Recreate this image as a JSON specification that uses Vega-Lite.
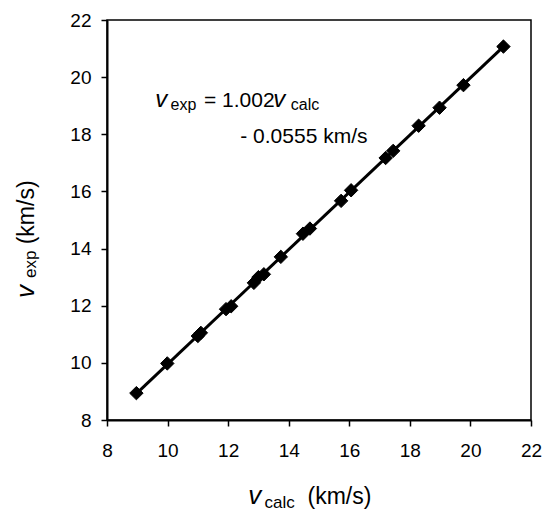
{
  "$schema": "https://vega.github.io/schema/vega-lite/v6.json",
  "autosize": "none",
  "width": 424,
  "height": 400,
  "padding": {"left": 107, "top": 20, "right": 14, "bottom": 97},
  "background": "white",
  "config": {
    "font": "Liberation Sans",
    "view": {"stroke": "black", "strokeWidth": 1.5},
    "text": {"font": "Liberation Sans", "color": "black", "align": "left", "baseline": "alphabetic"}
  },
  "datasets": {
    "points": [
      {"x": 8.97, "y": 8.94}, {"x": 9.99, "y": 9.98}, {"x": 11.0, "y": 10.94}, {"x": 11.1, "y": 11.05},
      {"x": 11.93, "y": 11.88}, {"x": 12.1, "y": 11.98}, {"x": 12.85, "y": 12.8}, {"x": 13.0, "y": 13.0},
      {"x": 13.18, "y": 13.1}, {"x": 13.74, "y": 13.71}, {"x": 14.47, "y": 14.52}, {"x": 14.7, "y": 14.7},
      {"x": 15.73, "y": 15.67}, {"x": 16.06, "y": 16.04}, {"x": 17.2, "y": 17.17}, {"x": 17.45, "y": 17.42},
      {"x": 18.29, "y": 18.3}, {"x": 18.98, "y": 18.93}, {"x": 19.77, "y": 19.72}, {"x": 21.09, "y": 21.07}
    ],
    "annotItalic": [{"x": 9.59, "y": 18.97, "text": "v"}, {"x": 13.49, "y": 18.97, "text": "v"}],
    "annotSub": [{"x": 10.1, "y": 18.85, "text": "exp"}, {"x": 14.07, "y": 18.85, "text": "calc"}],
    "annotPlain": [{"x": 11.2, "y": 18.97, "text": "= 1.002"}, {"x": 12.4, "y": 17.7, "text": "- 0.0555 km/s"}],
    "xTitleItalic": [{"x": 12.66, "y": 5.06, "text": "v"}],
    "xTitleSub": [{"x": 13.2, "y": 4.92, "text": "calc"}],
    "xTitlePlain": [{"x": 14.62, "y": 5.06, "text": "(km/s)"}],
    "yTitleItalic": [{"x": 5.59, "y": 12.27, "text": "v"}],
    "yTitleSub": [{"x": 5.65, "y": 12.97, "text": "exp"}],
    "yTitlePlain": [{"x": 5.59, "y": 14.15, "text": "(km/s)"}]
  },
  "encoding": {
    "x": {
      "field": "x", "type": "quantitative",
      "scale": {"domain": [8, 22], "nice": false, "zero": false},
      "axis": {
        "title": null, "values": [8, 10, 12, 14, 16, 18, 20, 22], "grid": false,
        "domainColor": "black", "domainWidth": 2, "tickColor": "black", "tickWidth": 1.5, "tickSize": 6,
        "labelFont": "Liberation Sans", "labelFontSize": 19, "labelColor": "black", "labelPadding": 15,
        "labelFlush": false, "labelOverlap": false
      }
    },
    "y": {
      "field": "y", "type": "quantitative",
      "scale": {"domain": [8, 22], "nice": false, "zero": false},
      "axis": {
        "title": null, "values": [8, 10, 12, 14, 16, 18, 20, 22], "grid": false,
        "domainColor": "black", "domainWidth": 2, "tickColor": "black", "tickWidth": 1.5, "tickSize": 6,
        "labelFont": "Liberation Sans", "labelFontSize": 19, "labelColor": "black", "labelPadding": 10,
        "labelFlush": false, "labelOverlap": false
      }
    }
  },
  "layer": [
    {
      "data": {"name": "points"},
      "transform": [{"regression": "y", "on": "x"}],
      "mark": {"type": "line", "color": "black", "strokeWidth": 3}
    },
    {
      "data": {"name": "points"},
      "mark": {"type": "point", "shape": "diamond", "filled": true, "color": "black", "opacity": 1, "size": 180, "stroke": "black", "strokeWidth": 1, "strokeJoin": "round"}
    },
    {
      "data": {"name": "annotItalic"},
      "mark": {"type": "text", "fontStyle": "italic", "fontSize": 24},
      "encoding": {"text": {"field": "text"}}
    },
    {
      "data": {"name": "annotSub"},
      "mark": {"type": "text", "fontSize": 16},
      "encoding": {"text": {"field": "text"}}
    },
    {
      "data": {"name": "annotPlain"},
      "mark": {"type": "text", "fontSize": 21},
      "encoding": {"text": {"field": "text"}}
    },
    {
      "data": {"name": "xTitleItalic"},
      "mark": {"type": "text", "fontStyle": "italic", "fontSize": 26},
      "encoding": {"text": {"field": "text"}}
    },
    {
      "data": {"name": "xTitleSub"},
      "mark": {"type": "text", "fontSize": 17},
      "encoding": {"text": {"field": "text"}}
    },
    {
      "data": {"name": "xTitlePlain"},
      "mark": {"type": "text", "fontSize": 23},
      "encoding": {"text": {"field": "text"}}
    },
    {
      "data": {"name": "yTitleItalic"},
      "mark": {"type": "text", "fontStyle": "italic", "fontSize": 26, "angle": 270},
      "encoding": {"text": {"field": "text"}}
    },
    {
      "data": {"name": "yTitleSub"},
      "mark": {"type": "text", "fontSize": 17, "angle": 270},
      "encoding": {"text": {"field": "text"}}
    },
    {
      "data": {"name": "yTitlePlain"},
      "mark": {"type": "text", "fontSize": 23, "angle": 270},
      "encoding": {"text": {"field": "text"}}
    }
  ]
}
